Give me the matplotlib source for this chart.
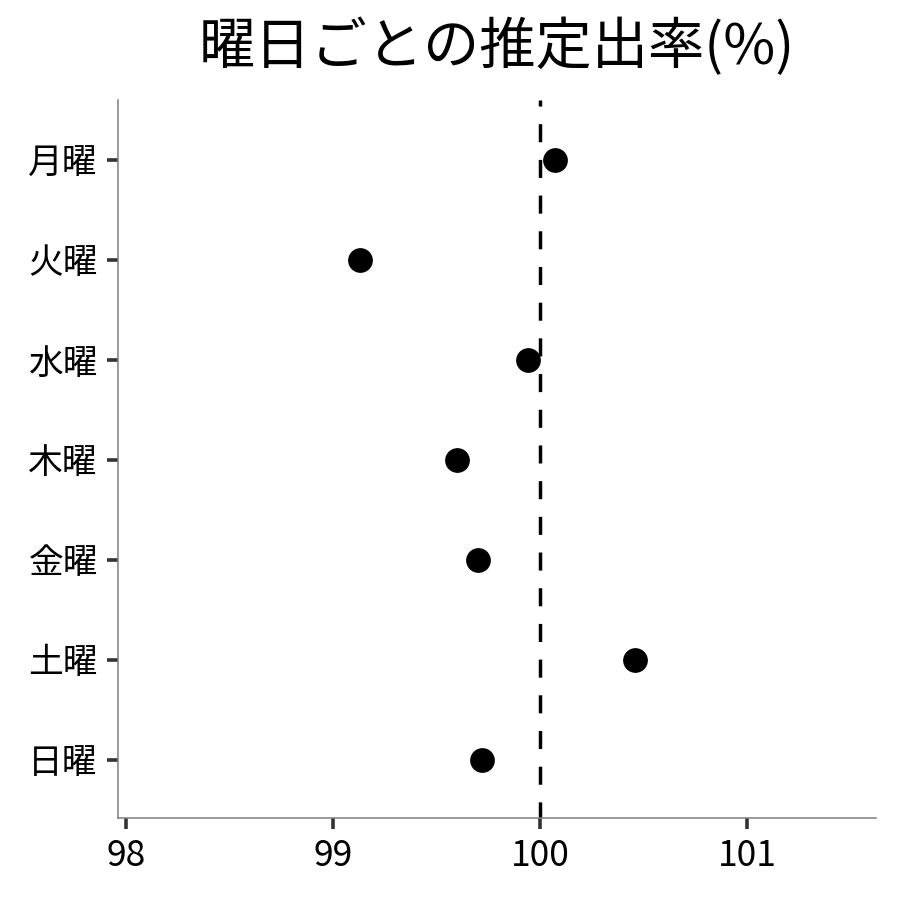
import matplotlib
matplotlib.use("Agg")
import matplotlib.pyplot as plt

plt.rcParams['font.family'] = ['Noto Sans CJK JP', 'DejaVu Sans']
plt.rcParams['lines.scale_dashes'] = False

# 曜日ごとの推定出率
days = ['月曜', '火曜', '水曜', '木曜', '金曜', '土曜', '日曜']
rates = [100.07, 99.13, 99.94, 99.60, 99.70, 100.46, 99.72]
xticks = [98, 99, 100, 101]

fig = plt.figure(figsize=(9, 9), dpi=100)
ax = fig.add_axes([118 / 900, 82 / 900, 758 / 900, 718 / 900])

ypos = list(range(len(days)))[::-1]

# reference line at 100%
ax.axvline(100, color='black', linewidth=2.5, linestyle=(1.4, (13, 12.7)), zorder=1)
ax.plot(rates, ypos, 'o', color='black', markersize=16.8, zorder=2)

ax.set_xlim(97.961, 101.623)
ax.set_ylim(-0.58, 6.6)
ax.set_xticks(xticks)
ax.set_xticklabels([str(v) for v in xticks])
ax.set_yticks(ypos)
ax.set_yticklabels(days)

for side in ['top', 'right']:
    ax.spines[side].set_visible(False)
for side in ['left', 'bottom']:
    ax.spines[side].set_color('#7f7f7f')
    ax.spines[side].set_linewidth(1.1)

ax.tick_params(axis='both', colors='#333333', length=8, width=2.6,
               labelsize=25, labelcolor='black', pad=6.5)
ax.tick_params(axis='x', labelsize=25.5)

ax.set_title('曜日ごとの推定出率(%)', fontsize=40.5, pad=26)

fig.savefig('out.png', dpi=100)
